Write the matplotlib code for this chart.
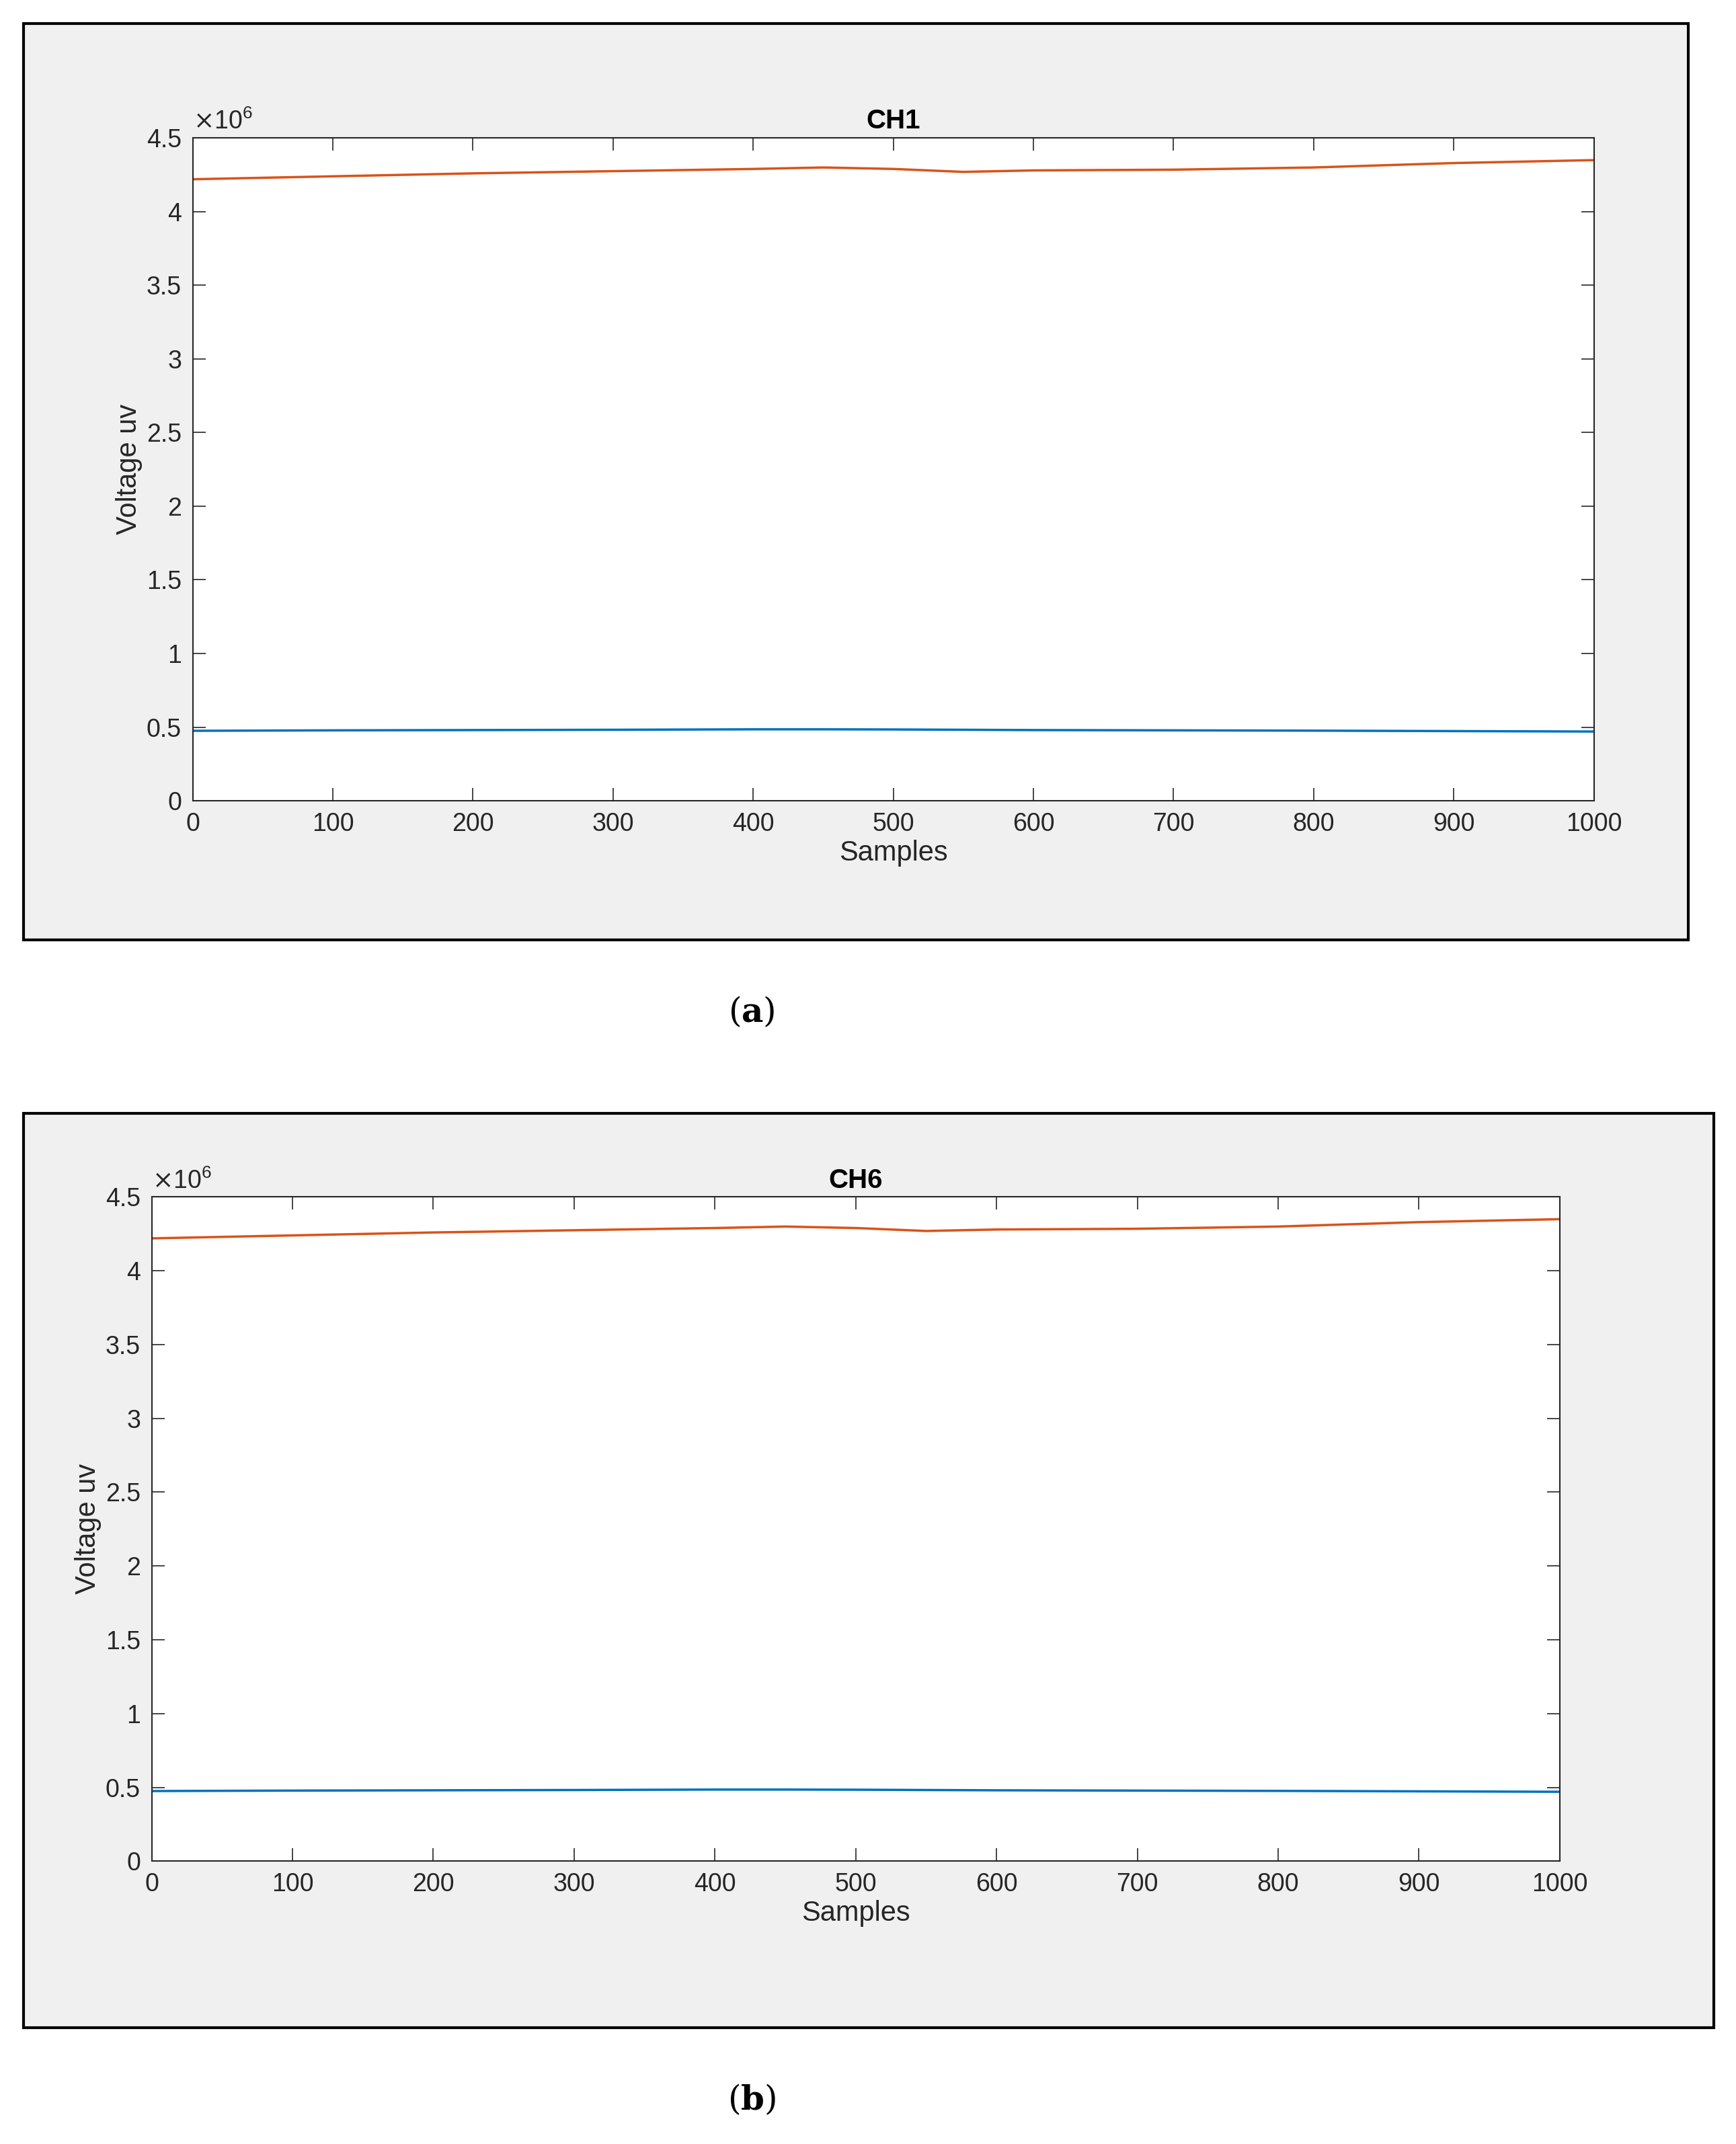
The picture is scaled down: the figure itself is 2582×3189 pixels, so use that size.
import matplotlib.pyplot as plt
from matplotlib.patches import Rectangle
from matplotlib.ticker import FuncFormatter

plt.rcParams['font.family'] = ['Liberation Sans', 'DejaVu Sans']
plt.rcParams['mathtext.fontset'] = 'dejavuserif'

# (knots of the traces)
samples = [0, 100, 200, 300, 400, 450, 500, 550, 600, 700, 800, 900, 1000]
ch_high = [4.22e6, 4.24e6, 4.26e6, 4.275e6, 4.29e6, 4.30e6, 4.29e6, 4.27e6, 4.28e6, 4.285e6, 4.30e6, 4.33e6, 4.35e6]
ch_low = [0.475e6, 0.478e6, 0.48e6, 0.482e6, 0.485e6, 0.485e6, 0.484e6, 0.482e6, 0.48e6, 0.478e6, 0.476e6, 0.473e6, 0.47e6]
titles = ['CH1', 'CH6']
captions = ['a', 'b']
yticks = [0, 0.5e6, 1e6, 1.5e6, 2e6, 2.5e6, 3e6, 3.5e6, 4e6, 4.5e6]
xticks = list(range(0, 1001, 100))

W, H = 1270, 1569
fig = plt.figure(figsize=(25.82, 31.89), dpi=100)

# panel geometry in reference pixel units
frames = [(17, 17, 1235, 688), (17, 815, 1254, 1484)]
axboxes = [(141, 101, 1166, 586), (111, 876, 1141, 1362)]
cap_x = [550, 550]
cap_y = [741, 1537]

def fx(x): return x / W
def fy(y): return 1 - y / H

for i in range(2):
    x0, y0, x1, y1 = frames[i]
    fig.add_artist(Rectangle((fx(x0), fy(y1)), fx(x1 - x0), (y1 - y0) / H,
                             transform=fig.transFigure, facecolor='#f0f0f0',
                             edgecolor='black', linewidth=3, zorder=-5))
    a0, b0, a1, b1 = axboxes[i]
    ax = fig.add_axes([fx(a0), fy(b1), fx(a1 - a0), (b1 - b0) / H])
    ax.set_zorder(5)
    ax.plot(samples, ch_low, color='#0072bd', lw=2.5)
    ax.plot(samples, ch_high, color='#d95319', lw=2.5)
    ax.set_xlim(0, 1000)
    ax.set_ylim(0, 4.5e6)
    ax.set_xticks(xticks)
    ax.set_yticks(yticks)
    ax.yaxis.set_major_formatter(FuncFormatter(lambda v, p: f'{v/1e6:g}'))
    ax.tick_params(direction='in', length=14, width=1.2, labelsize=27,
                   top=True, right=True, colors='#262626', pad=12)
    for s in ax.spines.values():
        s.set_linewidth(1.5)
        s.set_color('#262626')
    ax.set_xlabel('Samples', fontsize=30, color='#262626')
    ax.set_ylabel('Voltage uv', fontsize=30, color='#262626')
    ax.set_title(titles[i], fontsize=29, fontweight='bold', color='#000000', pad=10)
    ax.text(0, 1.005, r'$\times\mathregular{10^6}$', transform=ax.transAxes, fontsize=27,
            color='#262626', va='bottom', ha='left')
    fig.text(fx(cap_x[i]), fy(cap_y[i]), '(' + r'$\mathbf{' + captions[i] + '}$' + ')',
             fontsize=36, family='DejaVu Serif', ha='center', va='center')

fig.savefig('out.png', dpi=100)
